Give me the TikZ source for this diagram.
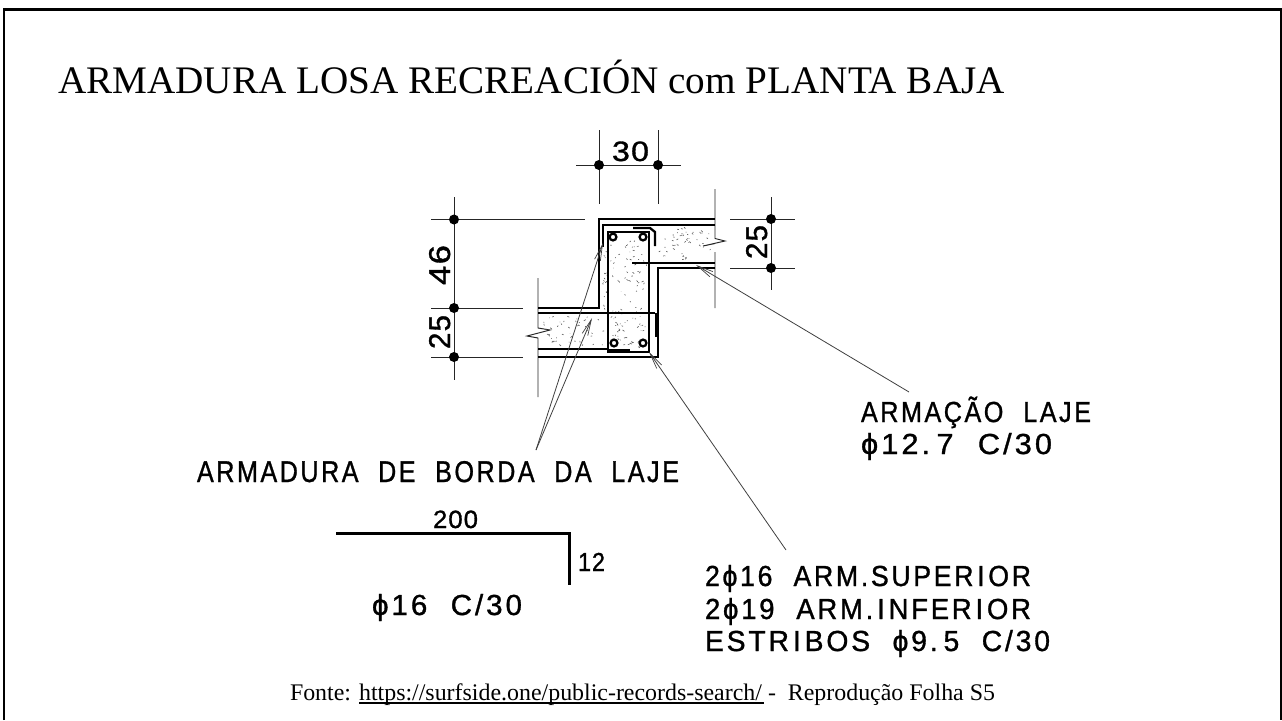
\documentclass[tikz,border=0pt]{standalone}
\usepackage{fontspec}
\usepackage{graphicx}
\usetikzlibrary{arrows.meta}
\setmainfont{Liberation Serif}
\newfontfamily\cadfont[LetterSpace=10,FakeBold=1.1]{Liberation Sans}
\newfontfamily\dimfont[LetterSpace=4,FakeBold=1.1]{Liberation Sans}
\newcommand\cadtext[3]{\resizebox{#1pt}{\height}{\fontsize{#2pt}{#2pt}\selectfont\cadfont #3}}
\newcommand\dimtext[3]{\resizebox{#1pt}{\height}{\fontsize{#2pt}{#2pt}\selectfont\dimfont #3}}
\newcommand\cadI{\kern4pt I\kern4pt}
\newcommand\cadgap{\ \kern12pt}
\tikzset{
  x=1pt,y=-1pt,
  frame/.style={line width=2.4pt,black},
  thin line/.style={line width=0.95pt,black!85},
  conc/.style={line width=2.4pt,black},
  rebar/.style={line width=2.3pt,black},
  leader/.style={line width=0.8pt,black!75,-{Straight Barb[length=16pt,width=6pt,line width=0.7pt]}},
  dimdot/.style={circle,fill=black,inner sep=0pt,minimum size=10pt},
  cad/.style={anchor=base west,inner sep=0pt,outer sep=0pt},
  speck/.style={line width=0.6pt,black!65},
}
\begin{document}
\begin{tikzpicture}
\useasboundingbox (0,0) rectangle (1282,720);
\fill[white] (0,0) rectangle (1282,720);
\draw[frame] (4,720) -- (4,9.5) -- (1281,9.5) -- (1281,720);
% title
\node[cad] (title) at (58,93) {\resizebox{947pt}{\height}{\fontsize{39pt}{39pt}\selectfont ARMADURA LOSA RECREACIÓN com PLANTA BAJA}};
% extension and dimension lines
\draw[thin line] (454,197) -- (454,380);
\draw[thin line] (431,219) -- (585,219);
\draw[thin line] (431,308) -- (523,308);
\draw[thin line] (431,357) -- (523,357);
\draw[thin line] (599,130) -- (599,204);
\draw[thin line] (658,130) -- (658,204);
\draw[thin line] (576,165) -- (681,165);
\draw[thin line] (771,197) -- (771,290);
\draw[thin line] (730,219) -- (795,219);
\draw[thin line] (730,268) -- (795,268);
\node[dimdot] (d1) at (454,219.5) {};
\node[dimdot] (d2) at (454,308) {};
\node[dimdot] (d3) at (454,357) {};
\node[dimdot] (d4) at (599,165) {};
\node[dimdot] (d5) at (658,165) {};
\node[dimdot] (d6) at (771,219) {};
\node[dimdot] (d7) at (771,268) {};
% section break lines
\draw[thin line] (715,189) -- (715,238.5) -- (725,241) -- (703,246) -- (715,243.5) (715,252) -- (715,308);
\draw[thin line] (538,278) -- (538,328) -- (550,330) -- (527,336) -- (538,338) -- (538,397);
% speckles
\pgfmathsetseed{7}
\foreach \i in {1,...,95}{
  \pgfmathsetmacro\px{611+rnd*36}\pgfmathsetmacro\py{240+rnd*108}\pgfmathsetmacro\dx{(rnd-.5)*4}\pgfmathsetmacro\dy{(rnd-.5)*3}
  \draw[speck] (\px,\py) -- ++(\dx,\dy);}
\foreach \i in {1,...,50}{
  \pgfmathsetmacro\px{660+rnd*52}\pgfmathsetmacro\py{228+rnd*32}\pgfmathsetmacro\dx{(rnd-.5)*4}\pgfmathsetmacro\dy{(rnd-.5)*3}
  \draw[speck] (\px,\py) -- ++(\dx,\dy);}
\foreach \i in {1,...,45}{
  \pgfmathsetmacro\px{541+rnd*62}\pgfmathsetmacro\py{316+rnd*30}\pgfmathsetmacro\dx{(rnd-.5)*4}\pgfmathsetmacro\dy{(rnd-.5)*3}
  \draw[speck] (\px,\py) -- ++(\dx,\dy);}
\foreach \i in {1,...,18}{
  \pgfmathsetmacro\px{602+rnd*5}\pgfmathsetmacro\py{250+rnd*60}\pgfmathsetmacro\dx{(rnd-.5)*3}\pgfmathsetmacro\dy{(rnd-.5)*3}
  \draw[speck] (\px,\py) -- ++(\dx,\dy);}
% concrete outline
\draw[conc] (715,219) -- (599,219) -- (599,308) -- (538,308);
\draw[conc] (715,268) -- (658,268) -- (658,357) -- (538,357);
% reinforcement
\draw[rebar] (715,225) -- (603,225) -- (603,247);
\draw[rebar] (632,263) -- (715,263);
\draw[rebar] (538,313) -- (655,313);
\draw[rebar] (538,349) -- (608,349);
\draw[rebar] (608,232) rectangle (649,352);
\draw[rebar] (633,228) -- (650,228) -- (655,232) -- (655,246);
\draw[line width=3pt] (656,313) -- (656,337);
\draw[line width=2.8pt] (608,350) -- (630,350);
\draw[rebar,fill=white] (613,237) circle (3.4);
\draw[rebar,fill=white] (643,237) circle (3.4);
\draw[rebar,fill=white] (614,343) circle (3.4);
\draw[rebar,fill=white] (643,343) circle (3.4);
% leaders
\coordinate (aBase) at (536,450);
\coordinate (aTip1) at (603,243);
\coordinate (aTip2) at (592,318);
\coordinate (bBase) at (909,392);
\coordinate (bTip) at (696,265);
\coordinate (cBase) at (786,550);
\coordinate (cTip) at (649,352);
\draw[leader] (aBase) -- (aTip1);
\draw[leader] (aBase) -- (aTip2);
\draw[leader] (bBase) -- (bTip);
\draw[leader] (cBase) -- (cTip);
% dimension labels
\node[cad] (t30) at (612,161) {\dimtext{37}{28}{30}};
\node[cad,rotate=90] (t46) at (450,285) {\dimtext{40}{30}{46}};
\node[cad,rotate=90] (t25a) at (450,349) {\dimtext{34}{30}{25}};
\node[cad,rotate=90] (t25b) at (767,259) {\dimtext{34}{30}{25}};
% notes
\node[cad] (n1) at (197,482) {\cadtext{482}{30}{ARMADURA\cadgap DE\cadgap BORDA\cadgap DA\cadgap LAJE}};
\node[cad] (n2) at (861,422) {\cadtext{230}{29}{ARMAÇÃO\cadgap LAJE}};
\node[cad] (n3) at (861,454) {\cadtext{191}{29}{ϕ12.\kern6pt 7\cadgap C/30}};
\node[cad] (n4) at (705,586) {\cadtext{326}{29}{2ϕ16\cadgap ARM.SUPER\cadI OR}};
\node[cad] (n5) at (705,619) {\cadtext{326}{29}{2ϕ19\cadgap ARM.\cadI NFER\cadI OR}};
\node[cad] (n6) at (705,651) {\cadtext{345}{29}{ESTR\cadI BOS\cadgap ϕ9.\kern6pt 5\cadgap C/30}};
\node[cad] (n7) at (433,528) {\dimtext{45}{25}{200}};
\node[cad] (n8) at (578,571) {\dimtext{27}{26}{12}};
\node[cad] (n9) at (372,615) {\cadtext{150}{29}{ϕ16\cadgap C/30}};
\draw[line width=3pt] (336,533) -- (569,533) -- (569,585);
% source
\node[cad] (src) at (290,700) {\resizebox{705pt}{\height}{\fontsize{23.8pt}{23.8pt}\selectfont Fonte: \rlap{\rule[-4.4pt]{403pt}{2pt}}https://surfside.one/public-records-search/ -\ \ Reprodução Folha S5}};
\end{tikzpicture}
\end{document}
